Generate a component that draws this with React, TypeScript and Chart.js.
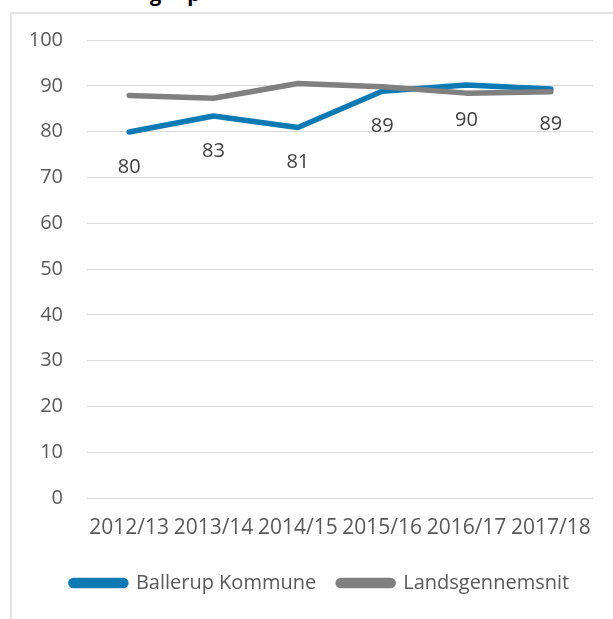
import React, { useEffect, useRef } from "react";
import { Chart, registerables } from "chart.js";

Chart.register(...registerables);

const categories = ["2012/13", "2013/14", "2014/15", "2015/16", "2016/17", "2017/18"];
const ballerup = [79.9, 83.4, 80.9, 88.8, 90.2, 89.3];
const landsgennemsnit = [87.9, 87.3, 90.5, 89.8, 88.4, 88.7];
const ballerupLabels = ["80", "83", "81", "89", "90", "89"];
const seriesNames = ["Ballerup Kommune", "Landsgennemsnit"];
const yMin = 0;
const yMax = 100;
const yStep = 10;

const BLUE = "#0E7AB4";
const GRAY = "#808080";
const AXIS_TEXT = "#595959";
const LABEL_TEXT = "#404040";
const GRID = "#D9D9D9";
const FONT_FAMILY = "'Open Sans', 'Noto Sans', sans-serif";

const dataLabelPlugin = {
  id: "dataLabels",
  afterLayout(chart: any) {
    // let the y tick labels extend past the padded scale box without clipping
    if (chart.scales.y) chart.scales.y.left = 0;
  },
  afterDatasetsDraw(chart: any) {
    const meta = chart.getDatasetMeta(0);
    const ctx = chart.ctx;
    ctx.save();
    ctx.font = `20px ${FONT_FAMILY}`;
    ctx.fillStyle = LABEL_TEXT;
    ctx.textAlign = "center";
    ctx.textBaseline = "middle";
    meta.data.forEach((pt: any, i: number) => {
      ctx.fillText(ballerupLabels[i], pt.x, pt.y + 35);
    });
    ctx.restore();
  },
};

export default function App() {
  const canvasRef = useRef<HTMLCanvasElement | null>(null);

  useEffect(() => {
    const canvas = canvasRef.current;
    if (!canvas) return;
    const font = { family: FONT_FAMILY, size: 20 };
    const bigFont = { family: FONT_FAMILY, size: 21 };
    const chart = new Chart(canvas, {
      type: "line",
      data: {
        labels: categories,
        datasets: [
          {
            label: seriesNames[0],
            data: ballerup,
            borderColor: BLUE,
            backgroundColor: BLUE,
            borderWidth: 5.5,
            pointRadius: 0,
            tension: 0,
            borderCapStyle: "round",
            borderJoinStyle: "round",
            order: 1,
          },
          {
            label: seriesNames[1],
            data: landsgennemsnit,
            borderColor: GRAY,
            backgroundColor: GRAY,
            borderWidth: 5.5,
            pointRadius: 0,
            tension: 0,
            borderCapStyle: "round",
            borderJoinStyle: "round",
            order: 0,
          },
        ],
      },
      options: {
        responsive: false,
        animation: false,
        layout: { padding: { left: 47, right: 20, top: 40, bottom: 16 } },
        scales: {
          x: {
            offset: true,
            grid: { display: false, drawTicks: false },
            border: { display: false },
            ticks: {
              color: AXIS_TEXT,
              font: bigFont,
              padding: 17,
              maxRotation: 0,
              minRotation: 0,
              autoSkip: false,
            },
            afterFit: (s: any) => {
              s.height = 53;
            },
          },
          y: {
            min: yMin,
            max: yMax,
            ticks: { stepSize: yStep, color: AXIS_TEXT, font, padding: 24 },
            grid: { color: GRID, lineWidth: 1, drawTicks: false },
            border: { display: false },
            afterFit: (s: any) => {
              s.width = 40;
            },
          },
        },
        plugins: {
          legend: {
            position: "bottom",
            labels: {
              boxWidth: 55,
              boxHeight: 5,
              useBorderRadius: true,
              borderRadius: 2.5,
              padding: 22,
              color: AXIS_TEXT,
              font,
              sort: (a: any, b: any) => a.datasetIndex - b.datasetIndex,
            },
          },
          tooltip: { enabled: false },
        },
      } as any,
      plugins: [dataLabelPlugin],
    });
    return () => chart.destroy();
  }, []);

  return (
    <div
      style={{
        position: "fixed",
        left: 0,
        top: 0,
        width: 613,
        height: 619,
        background: "#fff",
        overflow: "hidden",
      }}
    >
      <div
        style={{
          position: "absolute",
          left: 10,
          top: 12,
          width: 700,
          height: 700,
          borderLeft: "2px solid #E3E3E3",
          borderTop: "2px solid #E3E3E3",
        }}
      />
      <div
        style={{
          position: "absolute",
          left: 150,
          top: -16,
          font: `bold 20px ${FONT_FAMILY}`,
          lineHeight: "20px",
          color: "#000",
          whiteSpace: "pre",
        }}
      >
        g{"     "}p
      </div>
      <canvas
        ref={canvasRef}
        width={613}
        height={619}
        style={{ position: "absolute", left: 0, top: 0, width: 613, height: 619 }}
      />
    </div>
  );
}
